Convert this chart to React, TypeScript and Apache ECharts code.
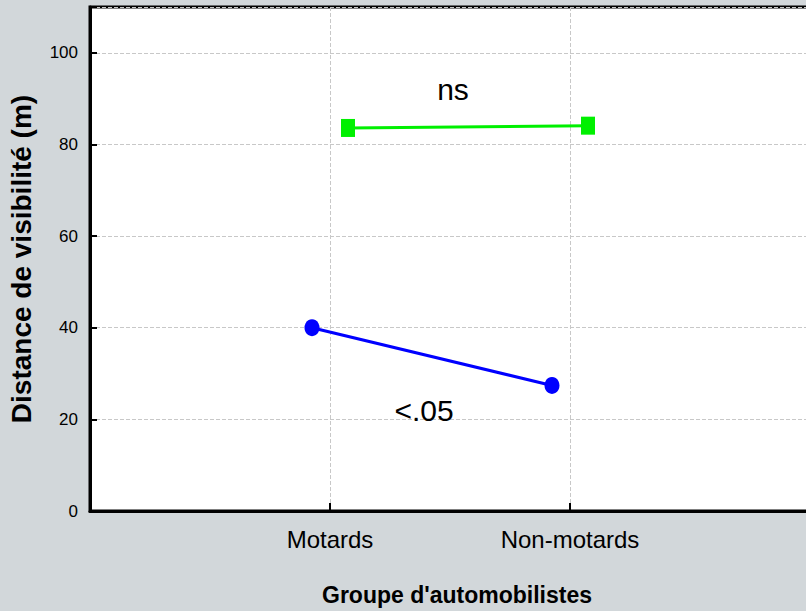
import React, { useEffect, useRef } from "react";
import * as echarts from "echarts";

const categories = ["Motards", "Non-motards"];
const motardsSeries = [40.0, 27.4]; // blue circles
const nonMotardsSeries = [83.6, 84.1]; // green squares
const yTicks = [0, 20, 40, 60, 80, 100];
const annotations = [
  { text: "ns", x: 453, y: 89 },
  { text: "<.05", x: 424, y: 410 },
];

const DODGE = 0.075;
const ARIAL = "'Liberation Sans', Arial, sans-serif";

export default function App() {
  const ref = useRef<HTMLDivElement>(null);
  useEffect(() => {
    if (!ref.current) return;
    const chart = echarts.init(ref.current, undefined, { renderer: "svg" });
    const blue = motardsSeries.map((v, i) => [i + 1 - DODGE, v]);
    const green = nonMotardsSeries.map((v, i) => [i + 1 + DODGE, v]);
    chart.setOption({
      animation: false,
      backgroundColor: "#d2d7da",
      grid: {
        left: 90,
        top: 7,
        width: 720,
        height: 504,
        outerBoundsMode: "none",
        containLabel: false,
        show: true,
        backgroundColor: "#ffffff",
        borderColor: "#000000",
        borderWidth: 3,
      },
      xAxis: {
        type: "value",
        min: 0,
        max: categories.length + 1,
        interval: 1,
        name: "Groupe d'automobilistes",
        nameLocation: "middle",
        nameGap: 72,
        nameTextStyle: {
          fontFamily: ARIAL,
          fontWeight: "bold",
          fontSize: 23,
          color: "#000",
          padding: [0, 0, 0, 14],
        },
        axisLine: { show: true, lineStyle: { color: "#000", width: 3 } },
        axisTick: { show: true, inside: true, length: 8, lineStyle: { color: "#000", width: 2 } },
        axisLabel: {
          margin: 16,
          fontFamily: ARIAL,
          fontSize: 24,
          color: "#000",
          formatter: (v: number) => (v >= 1 && v <= categories.length ? categories[v - 1] : ""),
        },
        splitLine: { show: true, lineStyle: { color: "#c8c8c8", type: "dashed", width: 1 } },
      },
      yAxis: {
        type: "value",
        min: 0,
        max: 110,
        interval: 20,
        name: "Distance de visibilité (m)",
        nameLocation: "middle",
        nameGap: 55,
        nameTextStyle: { fontFamily: ARIAL, fontWeight: "bold", fontSize: 28, color: "#000" },
        axisLine: { show: true, lineStyle: { color: "#000", width: 3 } },
        axisTick: { show: true, inside: true, length: 7, lineStyle: { color: "#000", width: 2 } },
        axisLabel: {
          margin: 12,
          fontFamily: ARIAL,
          fontSize: 17,
          color: "#000",
          formatter: (v: number) => (yTicks.includes(v) ? String(v) : ""),
        },
        splitLine: { show: true, lineStyle: { color: "#c8c8c8", type: "dashed", width: 1 } },
      },
      series: [
        {
          type: "line",
          data: blue,
          symbol: "circle",
          symbolSize: [15, 17],
          lineStyle: { color: "#0000ff", width: 3 },
          itemStyle: { color: "#0000ff" },
          z: 3,
        },
        {
          type: "line",
          data: green,
          symbol: "rect",
          symbolSize: [14, 18],
          lineStyle: { color: "#00f000", width: 3 },
          itemStyle: { color: "#00f000" },
          z: 3,
        },
      ],
      graphic: annotations.map((a) => ({
        type: "text",
        x: a.x,
        y: a.y,
        z: 10,
        style: {
          text: a.text,
          fontFamily: ARIAL,
          fontSize: 30,
          fill: "#000",
          textAlign: "center",
          textVerticalAlign: "middle",
        },
      })),
    });
    return () => chart.dispose();
  }, []);
  return (
    <div
      ref={ref}
      style={{ position: "fixed", left: 0, top: 0, width: 806, height: 611 }}
    />
  );
}
